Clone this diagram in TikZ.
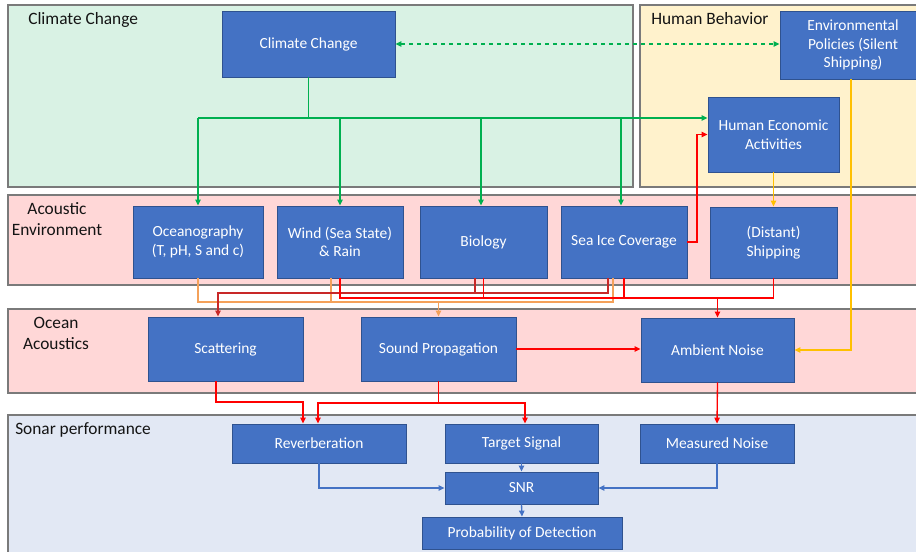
\documentclass[tikz,border=0pt]{standalone}
\usepackage{fontspec}
\setmainfont{Carlito}
\usetikzlibrary{arrows.meta}
\definecolor{boxblue}{HTML}{4472C4}
\definecolor{boxedge}{HTML}{2F528F}
\definecolor{ccgreen}{HTML}{D9F2E4}
\definecolor{hbyellow}{HTML}{FFF2CC}
\definecolor{aepink}{HTML}{FFD7D7}
\definecolor{spblue}{HTML}{E2E8F4}
\definecolor{panelgray}{HTML}{7A7A7A}
\definecolor{lgreen}{HTML}{00B050}
\definecolor{lred}{HTML}{FF0000}
\definecolor{ldred}{HTML}{C82828}
\definecolor{lorange}{HTML}{F4A15A}
\definecolor{lyellow}{HTML}{FFC000}
\definecolor{lblue}{HTML}{4472C4}
\definecolor{labeltext}{HTML}{141414}
\begin{document}
\begin{tikzpicture}[x=0.75pt,y=-0.75pt,
  box/.style={draw=boxedge, line width=0.6pt, fill=boxblue, text=white, align=center, inner sep=1pt, font=\fontsize{11.6}{13.9}\selectfont},
  panel/.style={draw=panelgray, line width=1.1pt},
  plabel/.style={text=labeltext, font=\fontsize{13}{15.6}\selectfont, inner sep=0pt, align=center},
  arr/.style={-{Triangle[length=4.5pt,width=4pt]}},
  twoarr/.style={{Triangle[length=4.5pt,width=4pt]}-{Triangle[length=4.5pt,width=4pt]}},
  gline/.style={draw=lgreen, line width=1pt},
  rline/.style={draw=lred, line width=1pt},
  dline/.style={draw=ldred, line width=1pt},
  oline/.style={draw=lorange, line width=1pt},
  yline/.style={draw=lyellow, line width=1pt},
  bline/.style={draw=lblue, line width=1pt}
]
\useasboundingbox (0,0) rectangle (916,551);
\clip (0,0) rectangle (916,551);
\fill[white] (0,0) rectangle (916,551);

% panels
\draw[panel, fill=ccgreen] (8,5) rectangle (633,187);
\draw[panel, fill=hbyellow] (640,5) rectangle (930,187);
\draw[panel, fill=aepink] (8,195) rectangle (930,285);
\draw[panel, fill=aepink] (8,309) rectangle (930,393);
\draw[panel, fill=spblue] (8,415) rectangle (930,565);

% panel labels
\node[plabel, anchor=base west] (lcc) at (28,24) {Climate Change};
\node[plabel, anchor=base west] (lhb) at (651,24) {Human Behavior};
\node[plabel] (lae) at (57,219.4) {Acoustic\\Environment};
\node[plabel] (loa) at (56,333.4) {Ocean\\Acoustics};
\node[plabel, anchor=base west] (lsp) at (15,434) {Sonar performance};

% nodes
\node[box, minimum width=129.75pt, minimum height=49.5pt] (cc) at (308.5,44) {Climate Change};
\node[box, minimum width=109.5pt, minimum height=51pt] (env) at (853,45) {Environmental\\Policies (Silent\\Shipping)};
\node[box, minimum width=98.25pt, minimum height=56.25pt] (hea) at (773.5,134.5) {Human Economic\\Activities};
\node[box, minimum width=97.5pt, minimum height=54pt] (ocean) at (198,242) {Oceanography\\(T, pH, S and c)};
\node[box, minimum width=94.5pt, minimum height=54pt] (wind) at (340,242) {Wind (Sea State)\\\& Rain};
\node[box, minimum width=95.25pt, minimum height=54pt] (bio) at (483.5,242) {Biology};
\node[box, minimum width=94.5pt, minimum height=54pt] (ice) at (624,242) {Sea Ice Coverage};
\node[box, minimum width=95.25pt, minimum height=53.25pt] (ship) at (773.5,242.5) {(Distant)\\Shipping};
\node[box, minimum width=116.25pt, minimum height=48pt] (scat) at (225.5,349) {Scattering};
\node[box, minimum width=116.25pt, minimum height=48pt] (prop) at (438.5,349) {Sound Propagation};
\node[box, minimum width=114.75pt, minimum height=48pt] (amb) at (717.5,350) {Ambient Noise};
\node[box, minimum width=130.5pt, minimum height=29.25pt] (rev) at (319,443.5) {Reverberation};
\node[box, minimum width=114.75pt, minimum height=29.25pt] (tgt) at (521.5,443.5) {Target Signal};
\node[box, minimum width=115.5pt, minimum height=29.25pt] (meas) at (717,443.5) {Measured Noise};
\node[box, minimum width=114.75pt, minimum height=24pt] (snr) at (521.5,488) {SNR};
\node[box, minimum width=150pt, minimum height=24pt] (pod) at (522,533) {Probability of Detection};

% green: climate change tree
\coordinate (gbus) at (0,118);
\draw[gline] (cc.south) -- (cc.south |- gbus);
\draw[gline, arr] (ocean.north |- gbus) -- (hea.west |- gbus);
\draw[gline, arr] (ocean.north |- gbus) -- (ocean.north);
\draw[gline, arr] (wind.north |- gbus) -- (wind.north);
\draw[gline, arr] (481,118) -- (bio.north -| 481,0);
\draw[gline, arr] (621,118) -- (ice.north -| 621,0);
\draw[gline, dashed, twoarr] (cc.east) -- (env.west |- cc.east);

% sea ice -> human economic activities
\draw[rline, arr] (ice.east) -- (ice.east -| 697,0) |- (hea.west);

% yellow
\draw[yline, arr] (hea.south) -- (ship.north);
\draw[yline, arr] (env.south -| 851,0) |- (amb.east);

% orange bus to sound propagation
\draw[oline, arr] (ocean.south) |- (prop.north |- 0,302) -- (prop.north);
\draw[oline] (wind.south -| 331,0) -- (331,302);
\draw[oline] (ice.south -| 613,0) |- (prop.north |- 0,302);

% dark red bus to scattering
\draw[dline, arr] (ice.south -| 608,0) |- (218,293) -- (scat.north -| 218,0);
\draw[dline] (bio.south -| 475,0) -- (475,293);

% red bus to ambient noise
\draw[rline, arr] (wind.south) |- (amb.north |- 0,298) -- (amb.north);
\draw[rline] (bio.south) -- (bio.south |- 0,298);
\draw[rline] (ice.south) -- (ice.south |- 0,298);
\draw[rline] (ship.south) |- (amb.north |- 0,298);

% sound propagation -> ambient noise
\draw[rline, arr] (prop.east) -- (amb.west |- prop.east);

% ocean acoustics -> sonar
\draw[rline, arr] (scat.south -| 216,0) |- (303,402) -- (rev.north -| 303,0);
\draw[rline, arr] (prop.south) |- (318,403) -- (rev.north -| 318,0);
\draw[rline, arr] (prop.south |- 0,403) -| (tgt.north -| 525,0);
\draw[rline, arr] (amb.south) -- (meas.north);

% blue
\draw[bline, arr] (tgt.south) -- (snr.north);
\draw[bline, arr] (snr.south) -- (pod.north);
\draw[bline, arr] (rev.south) |- (snr.west);
\draw[bline, arr] (meas.south) |- (snr.east);
\end{tikzpicture}
\end{document}
